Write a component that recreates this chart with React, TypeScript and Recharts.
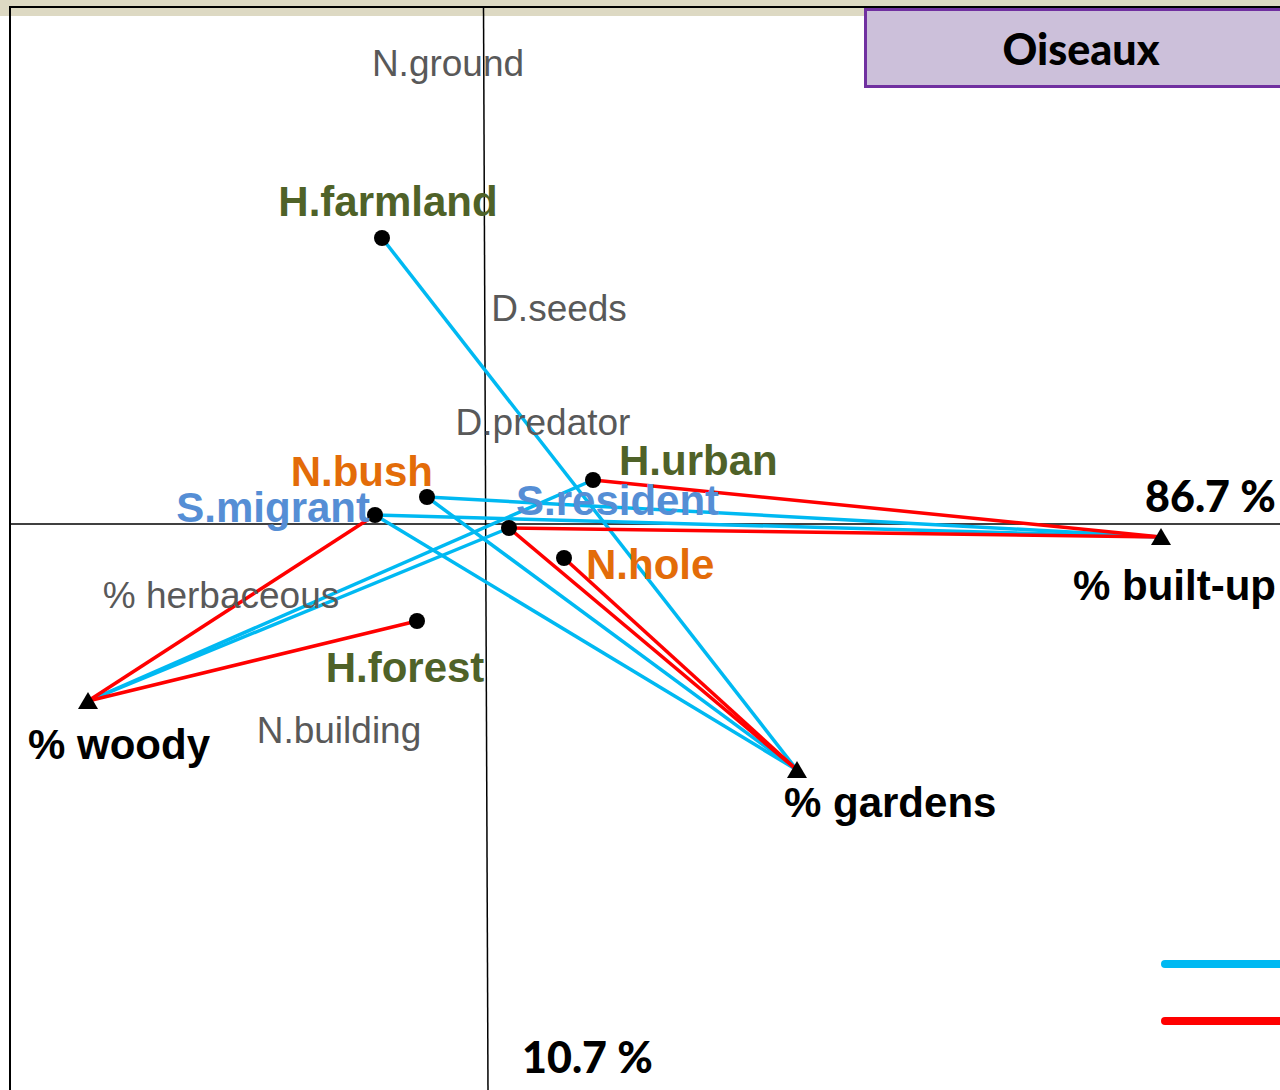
import React from 'react';
import { ScatterChart, Scatter, XAxis, YAxis, ReferenceLine } from 'recharts';

// ordination scores (axis 1 = 86.7 %, axis 2 = 10.7 %)
const traitNames = ['H.farmland', 'H.urban', 'N.bush', 'S.migrant', 'S.resident', 'N.hole', 'H.forest'];
const traitX = [-0.525, 0.53, -0.3, -0.56, 0.11, 0.385, -0.35];
const traitY = [1.43, 0.22, 0.135, 0.045, -0.02, -0.17, -0.485];

const envNames = ['% built-up', '% woody', '% gardens'];
const envX = [3.37, -1.995, 1.55];
const envY = [-0.065, -0.885, -1.23];

const passiveNames = ['N.ground', 'D.seeds', 'D.predator', '% herbaceous', 'N.building'];
const passiveX = [-0.195, 0.36, 0.28, -1.33, -0.74];
const passiveY = [2.305, 1.08, 0.51, -0.355, -1.03];

// significant associations trait -> environment
const positiveLinks = [
  ['H.farmland', '% gardens'],
  ['N.bush', '% built-up'],
  ['N.bush', '% gardens'],
  ['S.migrant', '% built-up'],
  ['S.migrant', '% gardens'],
  ['H.urban', '% woody'],
  ['S.resident', '% woody'],
];
const negativeLinks = [
  ['H.urban', '% built-up'],
  ['S.resident', '% built-up'],
  ['S.migrant', '% woody'],
  ['H.forest', '% woody'],
  ['S.resident', '% gardens'],
  ['N.hole', '% gardens'],
];

const axis1Label = '86.7 %';
const axis2Label = '10.7 %';
const title = 'Oiseaux';

const traits = traitNames.map((name, i) => ({ name, x: traitX[i], y: traitY[i] }));
const envs = envNames.map((name, i) => ({ name, x: envX[i], y: envY[i] }));
const passives = passiveNames.map((name, i) => ({ name, x: passiveX[i], y: passiveY[i] }));

const findPt = (name: string) =>
  traits.find((t) => t.name === name) || envs.find((e) => e.name === name)!;

const GREEN = '#4f6228';
const ORANGE = '#e36c09';
const BLUE = '#558ed5';
const GREY = '#595959';
const POS = '#00b9f2';
const NEG = '#ff0000';

const groupColor = (name: string) =>
  name.startsWith('H.') ? GREEN : name.startsWith('N.') ? ORANGE : BLUE;

// label placement relative to the marker (px)
const labelPos: Record<string, { dx: number; dy: number; anchor: 'start' | 'middle' | 'end' }> = {
  'H.farmland': { dx: 6, dy: -37, anchor: 'middle' },
  'H.urban': { dx: 26, dy: -20, anchor: 'start' },
  'N.bush': { dx: 6, dy: -26, anchor: 'end' },
  'S.migrant': { dx: -5, dy: -8, anchor: 'end' },
  'S.resident': { dx: 7, dy: -28, anchor: 'start' },
  'N.hole': { dx: 22, dy: 6, anchor: 'start' },
  'H.forest': { dx: -12, dy: 46, anchor: 'middle' },
  '% built-up': { dx: -88, dy: 48, anchor: 'start' },
  '% woody': { dx: -60, dy: 43, anchor: 'start' },
  '% gardens': { dx: -13, dy: 32, anchor: 'start' },
};

const boldFont = '"Liberation Sans", Arial, sans-serif';
const calibriLike = 'Lato, "Open Sans", sans-serif';

const TraitShape = (props: any) => {
  const { cx, cy, payload } = props;
  const l = labelPos[payload.name];
  return (
    <g>
      <circle cx={cx} cy={cy} r={8} fill="#000" />
      <text
        x={cx + l.dx}
        y={cy + l.dy}
        textAnchor={l.anchor}
        dominantBaseline="central"
        fontFamily={boldFont}
        fontWeight="bold"
        fontSize={42}
        fill={groupColor(payload.name)}
      >
        {payload.name}
      </text>
    </g>
  );
};

const EnvShape = (props: any) => {
  const { cx, cy, payload } = props;
  const l = labelPos[payload.name];
  return (
    <g>
      <polygon points={`${cx},${cy - 9} ${cx - 10},${cy + 8} ${cx + 10},${cy + 8}`} fill="#000" />
      <text
        x={cx + l.dx}
        y={cy + l.dy}
        textAnchor={l.anchor}
        dominantBaseline="central"
        fontFamily={boldFont}
        fontWeight="bold"
        fontSize={42}
        fill="#000"
      >
        {payload.name}
      </text>
    </g>
  );
};

const PassiveShape = (props: any) => {
  const { cx, cy, payload } = props;
  return (
    <text
      x={cx}
      y={cy}
      textAnchor="middle"
      dominantBaseline="central"
      fontFamily={boldFont}
      fontSize={37}
      fill={GREY}
    >
      {payload.name}
    </text>
  );
};

const NoShape = () => <g />;

export default function App() {
  const W = 1280;
  const H = 1090;
  return (
    <div
      style={{
        position: 'absolute',
        left: 0,
        top: 0,
        width: W,
        height: H,
        overflow: 'hidden',
        background: '#fff',
      }}
    >
      {/* slide header strip and frame */}
      <div style={{ position: 'absolute', left: 0, top: 0, width: W, height: 16, background: '#ddd9c3' }} />
      <div
        style={{
          position: 'absolute',
          left: 9,
          top: 6,
          width: W,
          height: H,
          borderTop: '2px solid #000',
          borderLeft: '2px solid #000',
        }}
      />

      <div style={{ position: 'absolute', left: 0, top: 0 }}>
        <ScatterChart width={W} height={H} margin={{ top: 0, right: 0, bottom: 0, left: 0 }}>
          <XAxis type="number" dataKey="x" domain={[-2.435, 3.965]} allowDataOverflow hide />
          <YAxis type="number" dataKey="y" domain={[-2.83, 2.62]} allowDataOverflow hide />
          <ReferenceLine
            segment={[
              { x: -2.39, y: 0 },
              { x: 3.965, y: 0 },
            ]}
            stroke="#000"
            strokeWidth={1.5}
          />
          <ReferenceLine
            segment={[
              { x: -0.0175, y: 2.59 },
              { x: 0.005, y: -2.83 },
            ]}
            stroke="#000"
            strokeWidth={1.5}
          />

          {positiveLinks.map(([a, b], i) => (
            <Scatter
              key={`p${i}`}
              data={[findPt(a), findPt(b)]}
              line={{ stroke: POS, strokeWidth: 3.5 }}
              shape={NoShape}
              isAnimationActive={false}
            />
          ))}
          {negativeLinks.map(([a, b], i) => (
            <Scatter
              key={`n${i}`}
              data={[findPt(a), findPt(b)]}
              line={{ stroke: NEG, strokeWidth: 3.5 }}
              shape={NoShape}
              isAnimationActive={false}
            />
          ))}

          <Scatter data={passives} shape={PassiveShape} isAnimationActive={false} />
          <Scatter data={traits} shape={TraitShape} isAnimationActive={false} />
          <Scatter data={envs} shape={EnvShape} isAnimationActive={false} />
        </ScatterChart>
      </div>

      {/* axis inertia labels */}
      <div
        style={{
          position: 'absolute',
          left: 1145,
          top: 470,
          fontFamily: calibriLike,
          fontWeight: 900,
          fontSize: 43,
          lineHeight: '52px',
          color: '#000',
          whiteSpace: 'nowrap',
        }}
      >
        {axis1Label}
      </div>
      <div
        style={{
          position: 'absolute',
          left: 522,
          top: 1031,
          fontFamily: calibriLike,
          fontWeight: 900,
          fontSize: 43,
          lineHeight: '52px',
          color: '#000',
          whiteSpace: 'nowrap',
        }}
      >
        {axis2Label}
      </div>

      {/* title box */}
      <div
        style={{
          position: 'absolute',
          left: 864,
          top: 8,
          width: 428,
          height: 74,
          background: '#ccc0da',
          border: '3px solid #7030a0',
          display: 'flex',
          alignItems: 'center',
          justifyContent: 'center',
          fontFamily: calibriLike,
          fontWeight: 900,
          fontSize: 43,
          color: '#000',
        }}
      >
        {title}
      </div>

      {/* legend swatches (labels fall outside the crop) */}
      <div style={{ position: 'absolute', left: 1161, top: 960, width: 140, height: 8, borderRadius: 4, background: POS }} />
      <div style={{ position: 'absolute', left: 1161, top: 1017, width: 140, height: 8, borderRadius: 4, background: NEG }} />
    </div>
  );
}
